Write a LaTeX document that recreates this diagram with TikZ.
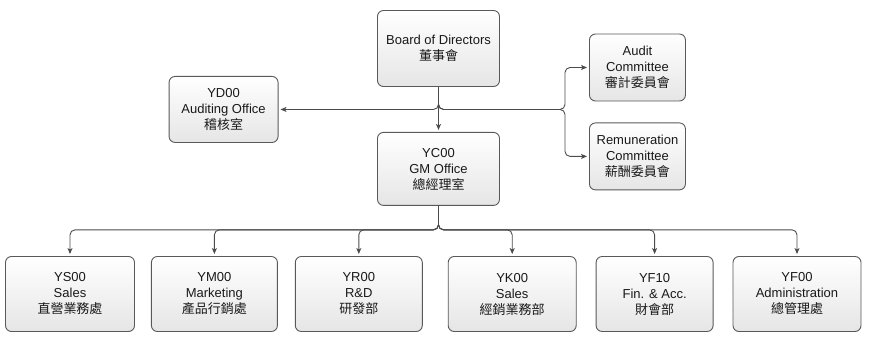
\documentclass[tikz,border=0pt]{standalone}
\usepackage{fontspec}
\setmainfont{Liberation Sans}
\newfontfamily\cjk{Noto Sans CJK TC}
\usepackage{tikz}
\usetikzlibrary{arrows.meta, positioning}
\usepackage{xcolor}
\tikzset{
    unit/.style={rectangle, draw=black!65, top color=white, bottom color=black!10, rounded corners=6pt, align=center, inner sep=2pt, font=\fontsize{13}{16}\selectfont, text=black!90, line width=0.9pt},
    link/.style={-{Stealth[length=6pt, width=5pt, inset=1.5pt]}, draw=black!70, line width=0.9pt, rounded corners=5pt, shorten >=2pt}
}

\begin{document}
\begin{tikzpicture}[x=1pt, y=1pt]
        \useasboundingbox (0,0) rectangle (870,-345);
        % Board and top level
        \node[unit, minimum width=122pt, minimum height=76pt] (board) at (438.5,-48.5) {Board of Directors\\{\cjk 董事會}};
        \node[unit, minimum width=122pt, minimum height=73pt, below=45pt of board] (gm) {YC00\\GM Office\\{\cjk 總經理室}};
        \coordinate[below=22.5pt of board] (fork);
        \node[unit, minimum width=109pt, minimum height=66pt, left=160pt of fork] (yd) {YD00\\Auditing Office\\{\cjk 稽核室}};
        \coordinate[right=126.5pt of fork] (split);
        \node[unit, minimum width=96pt, minimum height=67pt, above right=8pt and 24pt of split] (audit) {Audit\\Committee\\{\cjk 審計委員會}};
        \node[unit, minimum width=96pt, minimum height=67pt, below right=13pt and 24pt of split] (remun) {Remuneration\\Committee\\{\cjk 薪酬委員會}};

        % Departments
        \coordinate[below=24pt of gm] (bus);
        \node[unit, minimum width=129pt, minimum height=75pt] (ys) at (70,-294) {YS00\\Sales\\{\cjk 直營業務處}};
        \node[unit, minimum width=126pt, minimum height=75pt, right=16pt of ys] (ym) {YM00\\Marketing\\{\cjk 產品行銷處}};
        \node[unit, minimum width=127pt, minimum height=75pt, right=17pt of ym] (yr) {YR00\\R\&D\\{\cjk 研發部}};
        \node[unit, minimum width=128pt, minimum height=75pt, right=25pt of yr] (yk) {YK00\\Sales\\{\cjk 經銷業務部}};
        \node[unit, minimum width=117pt, minimum height=75pt, right=19pt of yk] (yf10) {YF10\\Fin. \& Acc.\\{\cjk 財會部}};
        \node[unit, minimum width=128pt, minimum height=75pt, right=19pt of yf10] (yf00) {YF00\\Administration\\{\cjk 總管理處}};

        \draw[link] (board) -- (gm);
        \draw[link] (board) |- (yd);
        \draw[link] (board) |- (split) |- (audit);
        \draw[link] (board) |- (split) |- (remun);
        \draw[link] (gm) -- (bus) -| (ys);
        \draw[link] (gm) -- (bus) -| (ym);
        \draw[link] (gm) -- (bus) -| (yr);
        \draw[link] (gm) -- (bus) -| (yk);
        \draw[link] (gm) -- (bus) -| (yf10);
        \draw[link] (gm) -- (bus) -| (yf00);
    \end{tikzpicture}
\end{document}
